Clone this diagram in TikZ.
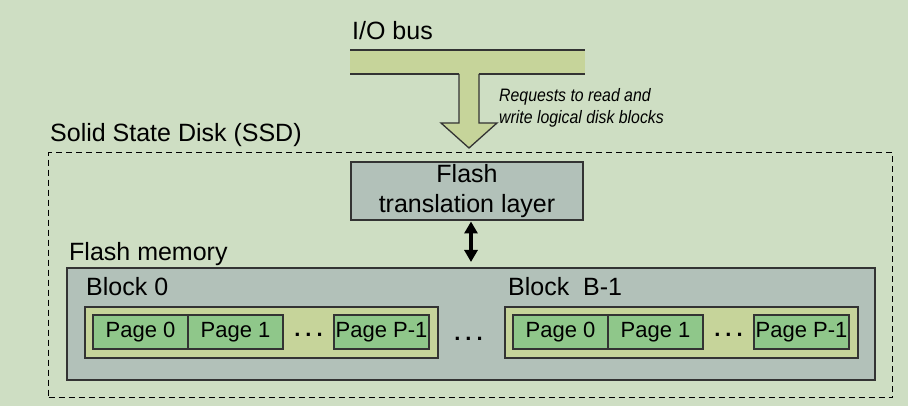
\documentclass[tikz,border=0pt]{standalone}
\usepackage{fontspec}
\setmainfont{Liberation Sans}
\newfontfamily\reqfont{Liberation Sans}[FakeStretch=0.88]
\usetikzlibrary{arrows.meta, positioning, calc}
\definecolor{PaleSage}{HTML}{CEDEC3}
\definecolor{BusOlive}{HTML}{C6D49A}
\definecolor{LeafGreen}{HTML}{8FC78A}
\definecolor{SlateGray}{HTML}{B2C1B9}
\definecolor{EdgeGray}{HTML}{333333}
\newcommand{\lblfont}{\fontsize{25}{30}\selectfont}
\newcommand{\pgfont}{\fontsize{22}{26}\selectfont}
\newcommand{\pgdots}{.\hspace{5pt}.\hspace{5pt}.}

\begin{document}
\begin{tikzpicture}[
    x=1pt, y=-1pt,
    node distance=0pt,
    lbl/.style={anchor=base west, inner sep=0pt, font=\lblfont},
    edge/.style={draw=EdgeGray, line width=1.3pt},
    graybox/.style={rectangle, edge, fill=SlateGray, anchor=north west,
                    inner sep=0pt, outer sep=0pt},
    blockbox/.style={rectangle, edge, fill=BusOlive, anchor=north west,
                     minimum width=353pt, minimum height=51pt, outer sep=0pt},
    page/.style={rectangle, draw=EdgeGray, line width=1.1pt, fill=LeafGreen,
                 minimum width=95pt, minimum height=34pt, inner sep=0pt,
                 outer sep=0pt, font=\pgfont},
    dotsep/.style={font=\pgfont\bfseries, inner sep=0pt},
    dblarrow/.style={{Triangle[length=12pt,width=13pt]}-{Triangle[length=12pt,width=13pt]},
                     line width=3.5pt}
]
    \useasboundingbox (0,0) rectangle (908,406);
    \fill[PaleSage] (0,0) rectangle (908,406);

    % I/O bus and request arrow
    \node[lbl] (iolbl) at (352,40) {I/O bus};
    \node[fill=BusOlive, minimum width=235pt, minimum height=24pt, inner sep=0pt,
          outer sep=0pt, anchor=north west] (bus) at (350,50) {};
    \draw[edge, fill=BusOlive] (459,74) -- ++(0,49) -- ++(-18,0) -- ++(28,25)
        -- ++(28,-25) -- ++(-18,0) -- ++(0,-49);
    \draw[edge] (bus.north west) -- (bus.north east);
    \draw[edge] (bus.south west) -- (459,74);
    \draw[edge] (479,74) -- (bus.south east);
    \node[anchor=north west, inner sep=0pt, align=left,
          font=\reqfont\itshape\fontsize{18}{22}\selectfont] (req) at (499,88)
        {Requests to read and\\write logical disk blocks};

    % SSD outline
    \node[lbl] (ssdlbl) at (50,142) {Solid State Disk (SSD)};
    \node[draw=black, line width=1.1pt, dash pattern=on 6pt off 4pt, anchor=north west,
          minimum width=844pt, minimum height=245pt, inner sep=0pt] (ssd) at (48,152) {};

    % Flash translation layer
    \node[graybox, minimum width=232pt, minimum height=58pt, align=center,
          font=\fontsize{25}{30}\selectfont] (ftl) at (351,162) {Flash\\translation layer};

    % Flash memory
    \node[lbl] (fmlbl) at (69,261) {Flash memory};
    \node[graybox, minimum width=808pt, minimum height=112pt] (flashmem) at (67,268) {};
    \coordinate (fmtop) at (ftl.south |- flashmem.north);
    \draw[dblarrow, shorten <=1.5pt, shorten >=6pt] ([xshift=4pt]ftl.south) -- ([xshift=4pt]fmtop);

    % Block 0
    \node[lbl] (blk0lbl) at (86,295) {Block 0};
    \node[blockbox] (blk0) at (85,307) {};
    \node[page, anchor=north west] (pg0a) at (93,315) {Page 0};
    \node[page, right=of pg0a] (pg0b) {Page 1};
    \node[page, right=51pt of pg0b] (pg0c) {Page P-1};
    \node[dotsep, yshift=-3pt] (dots0) at ($(pg0b.east)!0.5!(pg0c.west)$) {\pgdots};

    % Block B-1
    \node[lbl] (blkBlbl) at (508,295) {Block~~B-1};
    \node[blockbox] (blkB) at (505,307) {};
    \node[page, anchor=north west] (pgBa) at (513,315) {Page 0};
    \node[page, right=of pgBa] (pgBb) {Page 1};
    \node[page, right=51pt of pgBb] (pgBc) {Page P-1};
    \node[dotsep, yshift=-3pt] (dotsB) at ($(pgBb.east)!0.5!(pgBc.west)$) {\pgdots};

    \node[dotsep, xshift=-3pt, yshift=-6pt] (dotsmid) at ($(blk0.east)!0.5!(blkB.west)$) {\pgdots};
\end{tikzpicture}
\end{document}
